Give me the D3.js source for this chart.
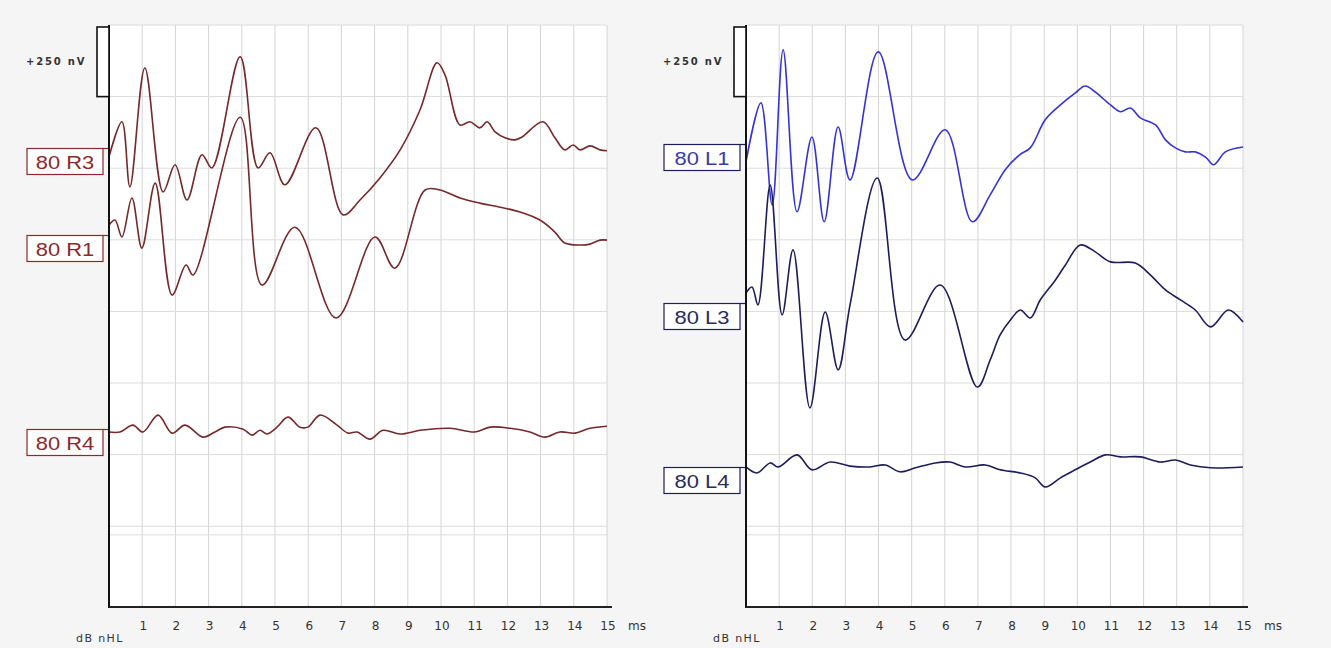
<!DOCTYPE html>
<html>
<head>
<meta charset="utf-8">
<script src="https://cdn.jsdelivr.net/npm/d3@7"></script>
<style>
  body { margin: 0; background: #f5f5f5; }
  svg { display: block; }
</style>
</head>
<body>
<svg id="chart" width="1331" height="648"></svg>
<script>
// ---- data (time in ms, amplitude in nV relative to each trace's baseline) ----
const timeTicks = d3.range(1, 16);
const gridLevels = [0, -250, -500, -750, -1000, -1250, -1500, -1750, -1780];
const scaleBarNV = 250;

const r3 = [[0,-24],[0.39,98],[0.63,-129],[1.08,286],[1.63,-147],[1.99,-52],[2.35,-175],[2.8,-17],[3.1,-63],
  [3.95,325],[4.49,-63],[4.85,-10],[5.3,-122],[6.23,77],[7.05,-227],[7.56,-175],[8.16,-98],[8.77,0],[9.37,140],
  [9.88,304],[10.12,262],[10.57,87],[10.87,98],[11.17,77],[11.39,98],[11.63,63],[11.93,42],[12.23,35],[12.44,45],
  [13.07,98],[13.43,42],[13.73,0],[13.98,17],[14.19,0],[14.49,14],[14.79,0],[15,-3]];
const r1 = [[0,10],[0.18,28],[0.39,-31],[0.69,105],[0.99,-70],[1.39,157],[1.9,-234],[2.32,-129],[2.53,-164],
  [3.95,387],[4.61,-199],[5.6,3],[6.84,-314],[8.01,-31],[8.61,-140],[9.52,133],[9.97,133],[10.57,105],[11.17,87],
  [11.78,73],[12.38,56],[12.98,28],[13.43,-14],[13.73,-52],[14.19,-59],[14.49,-56],[14.79,-42],[15,-42]];
const r4 = [[0,-3],[0.33,-3],[0.72,21],[1.02,-3],[1.48,56],[1.9,-7],[2.29,21],[2.83,-21],[3.19,-3],[3.49,14],
  [4.04,7],[4.31,-14],[4.55,3],[4.76,-10],[5.06,14],[5.39,49],[5.75,14],[5.99,14],[6.36,56],[6.87,21],[7.2,-7],
  [7.47,-3],[7.86,-28],[8.25,3],[8.77,-10],[9.37,3],[10.27,10],[11.02,-3],[11.48,14],[12.08,10],[12.68,-3],
  [13.13,-21],[13.58,-3],[14.04,-7],[14.49,10],[15,17]];
const l1 = [[0,-7],[0.45,199],[0.79,-157],[1.12,384],[1.54,-181],[1.99,80],[2.36,-216],[2.78,115],[3.14,-70],
  [3.99,377],[5.02,-70],[6.01,105],[6.83,-216],[7.37,-122],[7.82,-35],[8.25,17],[8.58,42],[9.03,140],[9.49,192],
  [9.94,234],[10.24,258],[10.54,237],[11.0,192],[11.3,168],[11.6,181],[11.9,147],[12.36,122],[12.66,70],
  [12.96,42],[13.26,28],[13.56,28],[13.87,10],[14.11,-17],[14.47,28],[15,45]];
const l3 = [[0,24],[0.18,45],[0.36,-17],[0.73,401],[1.09,-52],[1.42,175],[1.93,-377],[2.39,-42],[2.78,-244],
  [3.14,-17],[3.96,426],[4.8,-140],[5.86,52],[6.98,-304],[7.37,-209],[7.67,-122],[7.98,-70],[8.28,-35],[8.58,-63],
  [8.88,0],[9.34,70],[9.64,122],[10.09,192],[10.54,168],[11.0,133],[11.75,129],[12.21,87],[12.66,35],[13.11,0],
  [13.56,-35],[14.02,-94],[14.56,-35],[15,-77]];
const l4 = [[0,0],[0.33,-21],[0.73,14],[0.97,0],[1.54,42],[1.99,-10],[2.54,17],[3.14,3],[3.75,0],[4.2,7],
  [4.65,-17],[5.11,-3],[5.71,14],[6.16,17],[6.62,0],[7.22,7],[7.67,-10],[8.28,-21],[8.73,-38],[9.03,-70],
  [9.49,-38],[9.94,-10],[10.39,17],[10.85,42],[11.3,35],[11.9,35],[12.51,17],[12.96,24],[13.41,7],[14.02,-3],[15,0]];

const leftLabels = ['80 R3', '80 R1', '80 R4'];
const rightLabels = ['80 L1', '80 L3', '80 L4'];

// ---- layout ----
const plotTop = 25, plotBottom = 607;
const panels = [
  { x0: 109, x1: 607, labels: leftLabels, series: [r3, r1, r4],
    base: [-436, -709, -1418], labelShift: [-2, 7, -2],
    colors: ['#74292a', '#74292a', '#74292a'], textColor: ['#8a2a2a', '#8a2a2a', '#8a2a2a'], boxColor: '#8a2a2a' },
  { x0: 746, x1: 1243, labels: rightLabels, series: [l1, l3, l4],
    base: [-471, -960, -1543], labelShift: [-16, 3, 0],
    colors: ['#3434d6', '#1d1d5c', '#1d1d5c'], textColor: ['#3a3aa8', '#2b2b60', '#2b2b60'], boxColor: '#1d1d5c' }
];

const svg = d3.select('#chart');
const y = d3.scaleLinear().domain([0, -2032]).range([plotTop, plotBottom]);

panels.forEach(p => {
  const x = d3.scaleLinear().domain([0, 15]).range([p.x0, p.x1]);
  const g = svg.append('g');

  // plot background
  g.append('rect').attr('x', p.x0).attr('y', plotTop).attr('width', p.x1 - p.x0).attr('height', plotBottom - plotTop)
    .attr('fill', '#fff');

  // grid
  g.selectAll('.vgrid').data(timeTicks).join('line')
    .attr('x1', d => x(d)).attr('x2', d => x(d)).attr('y1', plotTop).attr('y2', plotBottom)
    .attr('stroke', '#d4d4d4').attr('stroke-width', 1);
  g.selectAll('.hgrid').data(gridLevels).join('line')
    .attr('x1', p.x0).attr('x2', p.x1).attr('y1', d => y(d)).attr('y2', d => y(d))
    .attr('stroke', '#dcdcdc').attr('stroke-width', 1);

  // traces
  const line = d3.line().curve(d3.curveCatmullRom.alpha(0.5))
    .x(d => x(d[0]));
  p.series.forEach((s, i) => {
    const b = p.base[i];
    g.append('path').datum(s)
      .attr('fill', 'none')
      .attr('stroke', p.colors[i])
      .attr('stroke-width', 1.6)
      .attr('stroke-linejoin', 'round')
      .attr('d', line.y(d => y(b + d[1])));

    // label box
    const by = Math.round(y(b)) + p.labelShift[i] + 0.5;
    const bx = p.x0 - 82;
    g.append('rect').attr('x', bx).attr('y', by).attr('width', 76).attr('height', 26)
      .attr('fill', '#fff').attr('stroke', p.boxColor).attr('stroke-width', 1.2);
    g.append('line').attr('x1', bx + 76).attr('x2', p.x0).attr('y1', by).attr('y2', by)
      .attr('stroke', p.boxColor).attr('stroke-width', 1.2);
    g.append('text')
      .attr('transform', `translate(${bx + 38},${by + 20}) scale(1.22,1)`)
      .attr('text-anchor', 'middle')
      .attr('font-family', 'Liberation Sans, Arial, sans-serif').attr('font-size', 18)
      .attr('fill', p.textColor[i]).text(p.labels[i]);
  });

  // axes
  g.append('line').attr('x1', p.x0).attr('x2', p.x0).attr('y1', plotTop).attr('y2', plotBottom + 1)
    .attr('stroke', '#111').attr('stroke-width', 2);
  g.append('line').attr('x1', p.x0).attr('x2', p.x1 + 5).attr('y1', plotBottom).attr('y2', plotBottom)
    .attr('stroke', '#222').attr('stroke-width', 2);

  // scale bar
  g.append('rect').attr('x', p.x0 - 12).attr('y', y(0) + 2).attr('width', 12)
    .attr('height', y(-scaleBarNV) - y(0) - 2)
    .attr('fill', '#fff').attr('stroke', '#111').attr('stroke-width', 1.6);
  g.append('text').attr('x', p.x0 - 83).attr('y', 65)
    .attr('font-family', 'DejaVu Sans, sans-serif').attr('font-size', 10).attr('letter-spacing', 1.8)
    .attr('font-weight', 'bold').attr('fill', '#333').text(`+${scaleBarNV} nV`);

  // tick labels
  g.selectAll('.tick').data(timeTicks).join('text')
    .attr('x', d => x(d) + 1).attr('y', 630)
    .attr('text-anchor', 'middle')
    .attr('font-family', 'DejaVu Sans, sans-serif').attr('font-size', 12)
    .attr('fill', '#333').text(d => d);
  g.append('text').attr('x', x(15) + 21).attr('y', 630)
    .attr('font-family', 'DejaVu Sans, sans-serif').attr('font-size', 12)
    .attr('fill', '#333').text('ms');
  g.append('text').attr('x', p.x0 - 33).attr('y', 642)
    .attr('font-family', 'DejaVu Sans, sans-serif').attr('font-size', 11).attr('letter-spacing', 1.4)
    .attr('fill', '#333').text('dB nHL');
});
</script>
</body>
</html>
